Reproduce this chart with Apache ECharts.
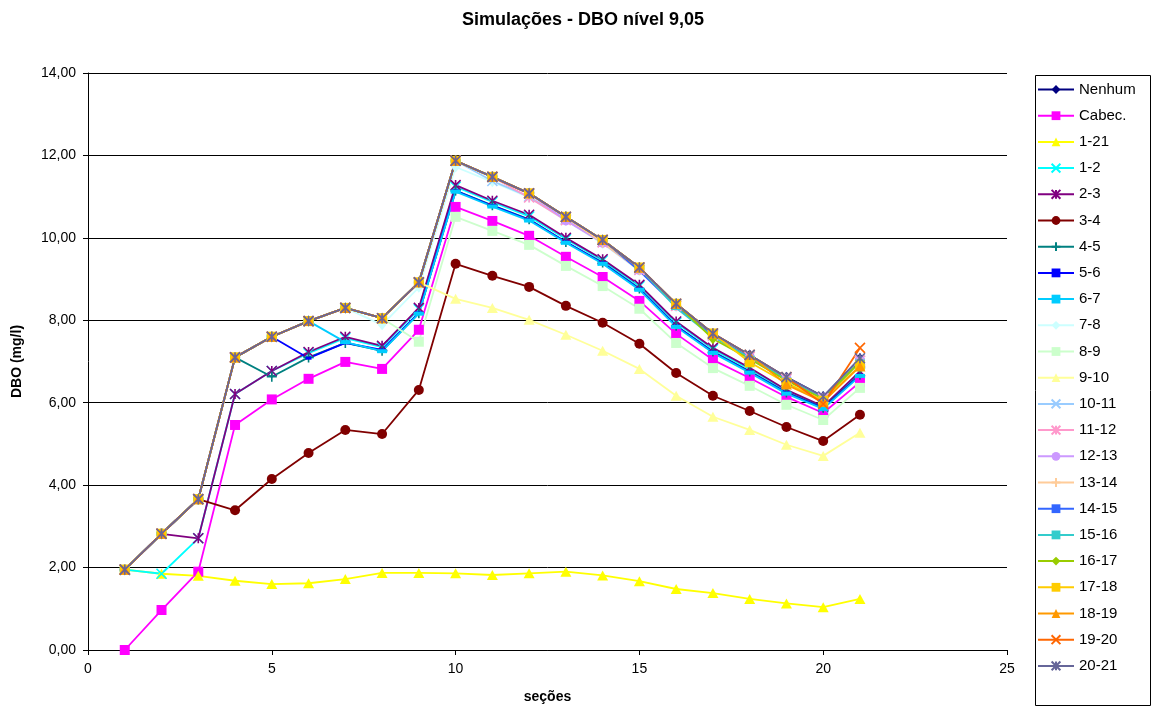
<!DOCTYPE html>
<html>
<head>
<meta charset="utf-8">
<script src="https://cdn.jsdelivr.net/npm/echarts@6/dist/echarts.min.js"></script>
<style>
html,body{margin:0;padding:0;background:#fff;}
#chart{width:1152px;height:711px;}
</style>
</head>
<body>
<div id="chart"></div>
<script>
// x positions (seções)
const secoes = [1,2,3,4,5,6,7,8,9,10,11,12,13,14,15,16,17,18,19,20,21];
const seriesNames = ['Nenhum','Cabec.','1-21','1-2','2-3','3-4','4-5','5-6','6-7','7-8','8-9','9-10','10-11','11-12','12-13','13-14','14-15','15-16','16-17','17-18','18-19','19-20','20-21'];
const xTicks = [0,5,10,15,20,25];
const yTicks = [0,2,4,6,8,10,12,14];

const vNenhum = [1.95,2.82,3.66,7.10,7.60,7.98,8.30,8.05,8.92,11.87,11.48,11.08,10.51,9.95,9.28,8.40,7.68,7.16,6.62,6.15,7.07];
const vCabec  = [0.00,0.97,1.90,5.46,6.08,6.58,6.99,6.82,7.77,10.75,10.41,10.05,9.54,9.05,8.47,7.67,7.04,6.60,6.14,5.75,6.50];
const v1_21   = [1.95,1.85,1.80,1.68,1.60,1.62,1.72,1.87,1.87,1.86,1.82,1.86,1.90,1.81,1.67,1.48,1.38,1.24,1.13,1.04,1.24];
const v1_2    = [1.95,1.85,2.71,6.21,6.77,7.20,7.57,7.35,8.27,11.24,10.87,10.52,9.97,9.45,8.83,7.94,7.30,6.82,6.29,5.89,6.73];
const v2_3    = [1.95,2.82,2.71,6.21,6.77,7.23,7.60,7.38,8.30,11.28,10.90,10.56,10.00,9.48,8.86,7.97,7.33,6.85,6.31,5.91,6.76];
const v3_4    = [1.95,2.82,3.66,3.39,4.15,4.78,5.34,5.24,6.31,9.37,9.08,8.81,8.35,7.94,7.43,6.72,6.17,5.80,5.41,5.07,5.71];
const v4_5    = [1.95,2.82,3.66,7.10,6.63,7.10,7.45,7.26,8.17,11.15,10.79,10.45,9.90,9.40,8.77,7.87,7.24,6.76,6.25,5.88,6.68];
const v5_6    = [1.95,2.82,3.66,7.10,7.60,7.08,7.45,7.28,8.18,11.14,10.78,10.44,9.90,9.39,8.76,7.86,7.23,6.75,6.24,5.87,6.67];
const v6_7    = [1.95,2.82,3.66,7.10,7.60,7.98,7.47,7.25,8.16,11.12,10.76,10.42,9.88,9.37,8.74,7.84,7.21,6.73,6.22,5.85,6.65];
const v7_8    = [1.95,2.82,3.66,7.10,7.60,7.98,8.30,7.89,8.80,11.72,11.36,10.98,10.42,9.86,9.20,8.32,7.60,7.08,6.55,6.08,6.98];
const v8_9    = [1.95,2.82,3.66,7.10,7.60,7.98,8.30,8.05,7.48,10.51,10.17,9.83,9.32,8.83,8.28,7.45,6.84,6.41,5.95,5.58,6.36];
const v9_10   = [1.95,2.82,3.66,7.10,7.60,7.98,8.30,8.05,8.92,8.52,8.30,8.01,7.65,7.26,6.82,6.17,5.66,5.34,4.98,4.71,5.27];
const v10_11  = [1.95,2.82,3.66,7.10,7.60,7.98,8.30,8.05,8.92,11.87,11.38,11.00,10.45,9.90,9.23,8.36,7.64,7.12,6.58,6.11,7.02];
const v11_12  = [1.95,2.82,3.66,7.10,7.60,7.98,8.30,8.05,8.92,11.87,11.48,10.98,10.43,9.89,9.22,8.35,7.63,7.11,6.58,6.11,7.02];
const v12_13  = [1.95,2.82,3.66,7.10,7.60,7.98,8.30,8.05,8.92,11.87,11.48,11.08,10.42,9.88,9.22,8.35,7.63,7.11,6.58,6.11,7.02];
const v13_14  = [1.95,2.82,3.66,7.10,7.60,7.98,8.30,8.05,8.92,11.87,11.48,11.08,10.51,9.88,9.22,8.35,7.63,7.11,6.58,6.11,7.02];
const v14_15  = [1.95,2.82,3.66,7.10,7.60,7.98,8.30,8.05,8.92,11.87,11.48,11.08,10.51,9.95,9.20,8.34,7.62,7.10,6.57,6.10,7.01];
const v15_16  = [1.95,2.82,3.66,7.10,7.60,7.98,8.30,8.05,8.92,11.87,11.48,11.08,10.51,9.95,9.28,8.30,7.60,7.09,6.56,6.10,7.00];
const v16_17  = [1.95,2.82,3.66,7.10,7.60,7.98,8.30,8.05,8.92,11.87,11.48,11.08,10.51,9.95,9.28,8.40,7.55,7.06,6.54,6.09,6.99];
const v17_18  = [1.95,2.82,3.66,7.10,7.60,7.98,8.30,8.05,8.92,11.87,11.48,11.08,10.51,9.95,9.28,8.40,7.68,6.98,6.48,6.05,6.90];
const v18_19  = [1.95,2.82,3.66,7.10,7.60,7.98,8.30,8.05,8.92,11.87,11.48,11.08,10.51,9.95,9.28,8.40,7.68,7.16,6.44,6.02,6.88];
const v19_20  = [1.95,2.82,3.66,7.10,7.60,7.98,8.30,8.05,8.92,11.87,11.48,11.08,10.51,9.95,9.28,8.40,7.68,7.16,6.62,5.97,7.33];
const v20_21  = [1.95,2.82,3.66,7.10,7.60,7.98,8.30,8.05,8.92,11.87,11.48,11.08,10.51,9.95,9.28,8.40,7.68,7.16,6.62,6.15,7.08];

const allValues = [vNenhum,vCabec,v1_21,v1_2,v2_3,v3_4,v4_5,v5_6,v6_7,v7_8,v8_9,v9_10,v10_11,v11_12,v12_13,v13_14,v14_15,v15_16,v16_17,v17_18,v18_19,v19_20,v20_21];
const colors = ['#000080','#FF00FF','#FFFF00','#00FFFF','#800080','#800000','#008080','#0000FF','#00CCFF','#CCFFFF','#CCFFCC','#FFFF99','#99CCFF','#FF99CC','#CC99FF','#FFCC99','#3366FF','#33CCCC','#99CC00','#FFCC00','#FF9900','#FF6600','#666699'];

const SYM = {
  diamond: {symbol:'diamond', size:[9,11], stroke:false},
  square: {symbol:'rect', size:10, stroke:false},
  triangle: {symbol:'triangle', size:[11,10], stroke:false},
  x: {symbol:'path://M0,0L10,10M10,0L0,10', size:10, stroke:true},
  star: {symbol:'path://M0,0L10,10M10,0L0,10M5,0L5,10', size:10, stroke:true},
  circle: {symbol:'circle', size:10, stroke:false},
  plus: {symbol:'path://M5,0L5,10M0,5L10,5', size:10, stroke:true},
  dash: {symbol:'rect', size:[6,3], stroke:false},
  ldash: {symbol:'rect', size:[10,4], stroke:false}
};
const markerCycle = ['diamond','square','triangle','x','star','circle','plus','dash','ldash'];

const series = seriesNames.map((name, i) => {
  const m = SYM[markerCycle[i % markerCycle.length]];
  const c = colors[i];
  return {
    name: name,
    type: 'line',
    data: secoes.map((x, k) => [x, allValues[i][k]]),
    symbol: m.symbol,
    symbolSize: m.size,
    symbolKeepAspect: false,
    showAllSymbol: true,
    lineStyle: {color: c, width: 1.8},
    itemStyle: {color: c, borderColor: c, borderWidth: m.stroke ? 1.6 : 0, opacity: 1},
    emphasis: {disabled: true},
    animation: false,
    z: 2
  };
});

const fmt = v => v.toFixed(2).replace('.', ',');
const FONT = 'Liberation Sans, Arial';

const chart = echarts.init(document.getElementById('chart'), null, {renderer: 'canvas'});
chart.setOption({
  backgroundColor: '#ffffff',
  animation: false,
  color: colors,
  title: {
    text: 'Simulações - DBO nível 9,05',
    left: 578, top: 6, textAlign: 'center',
    textStyle: {fontFamily: FONT, fontSize: 18, fontWeight: 'bold', color: '#000'}
  },
  grid: {left: 88, right: 145, top: 73, bottom: 61, containLabel: false},
  legend: {
    orient: 'vertical',
    left: 1037, top: 82,
    itemGap: 11.2,
    itemWidth: 36, itemHeight: 11,
    padding: 0,
    data: seriesNames,
    textStyle: {fontFamily: FONT, fontSize: 15, lineHeight: 15, color: '#000', padding: [0,0,0,0]},
    selectedMode: false
  },
  graphic: [{
    type: 'rect', left: 1033, top: 73,
    shape: {width: 115, height: 630},
    style: {fill: 'none', stroke: '#000', lineWidth: 1},
    z: 0
  }],
  xAxis: {
    type: 'value', min: xTicks[0], max: xTicks[xTicks.length-1], interval: 5,
    name: 'seções', nameLocation: 'middle', nameGap: 40,
    nameTextStyle: {fontFamily: FONT, fontSize: 14, fontWeight: 'bold', color: '#000'},
    axisLine: {onZero: false, lineStyle: {color: '#000', width: 1}},
    axisTick: {show: true, length: 5, inside: false, lineStyle: {color: '#000'}},
    axisLabel: {fontFamily: FONT, fontSize: 14, color: '#000', margin: 12},
    splitLine: {show: false}
  },
  yAxis: {
    type: 'value', min: yTicks[0], max: yTicks[yTicks.length-1], interval: 2,
    name: 'DBO (mg/l)', nameLocation: 'middle', nameGap: 64, nameRotate: 90,
    nameTextStyle: {fontFamily: FONT, fontSize: 14, fontWeight: 'bold', color: '#000'},
    axisLine: {show: true, lineStyle: {color: '#000', width: 1}},
    axisTick: {show: true, length: 5, lineStyle: {color: '#000'}},
    axisLabel: {fontFamily: FONT, fontSize: 14, color: '#000', margin: 12, formatter: fmt},
    splitLine: {show: true, lineStyle: {color: '#000', width: 1}}
  },
  series: series
});
</script>
</body>
</html>
